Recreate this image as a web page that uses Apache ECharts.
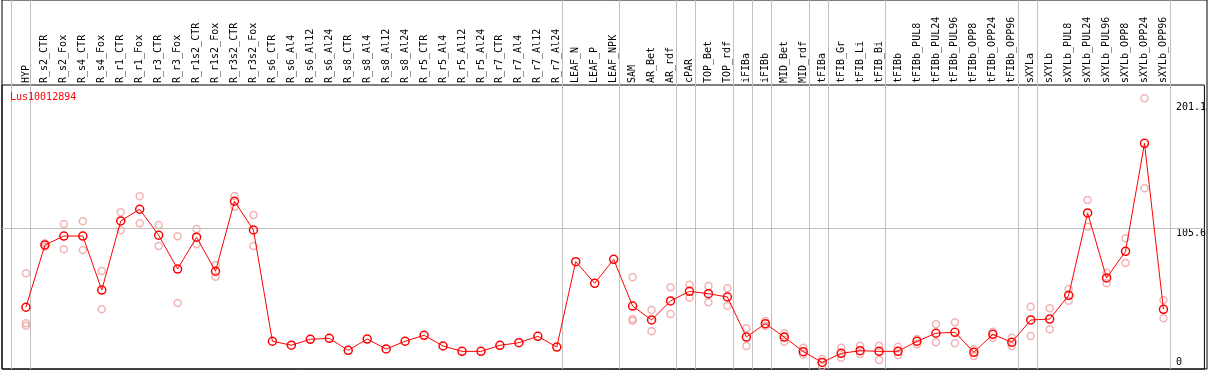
<!DOCTYPE html>
<html><head><meta charset="utf-8">
<script src="https://cdn.jsdelivr.net/npm/echarts@6/dist/echarts.min.js"></script>
<style>html,body{margin:0;padding:0;background:#fff}#c{width:1209px;height:370px}</style>
</head><body><div id="c"></div>
<script>
const categories = ['HYP','R_s2_CTR','R_s2_Fox','R_s4_CTR','R_s4_Fox','R_r1_CTR','R_r1_Fox','R_r3_CTR','R_r3_Fox','R_r1s2_CTR','R_r1s2_Fox','R_r3s2_CTR','R_r3s2_Fox','R_s6_CTR','R_s6_Al4','R_s6_Al12','R_s6_Al24','R_s8_CTR','R_s8_Al4','R_s8_Al12','R_s8_Al24','R_r5_CTR','R_r5_Al4','R_r5_Al12','R_r5_Al24','R_r7_CTR','R_r7_Al4','R_r7_Al12','R_r7_Al24','LEAF_N','LEAF_P','LEAF_NPK','SAM','AR_Bet','AR_rdf','cPAR','TOP_Bet','TOP_rdf','iFIBa','iFIBb','MID_Bet','MID_rdf','tFIBa','tFIB_Gr','tFIB_Li','tFIB_Bi','tFIBb','tFIBb_PUL8','tFIBb_PUL24','tFIBb_PUL96','tFIBb_OPP8','tFIBb_OPP24','tFIBb_OPP96','sXYLa','sXYLb','sXYLb_PUL8','sXYLb_PUL24','sXYLb_PUL96','sXYLb_OPP8','sXYLb_OPP24','sXYLb_OPP96'];
const meanValues = [45.5,92.9,99.7,99.7,58.6,111.2,120.1,100.3,74.6,98.8,72.9,126.2,104.3,19.6,16.6,21.1,21.8,12.7,21.3,13.7,19.6,24.1,16.0,11.9,11.9,16.5,18.5,23.4,15.2,80.2,63.7,82.0,46.4,35.8,50.3,57.6,55.8,53.3,22.8,33.0,22.8,11.7,3.5,10.4,12.4,11.9,11.9,19.6,25.7,26.4,11.2,24.9,18.8,35.8,36.5,54.6,117.3,67.8,88.1,170.3,43.9];
const rep1 = [71.3,94.2,108.9,110.9,73.1,117.8,130.0,108.1,99.5,105.1,77.7,130.2,115.7,null,null,null,null,null,null,null,null,null,null,null,null,null,null,null,null,null,null,null,68.3,43.4,60.7,62.7,61.7,59.9,29.5,35.0,25.7,14.7,6.1,14.7,16.2,16.2,15.5,21.3,32.5,34.0,13.5,26.9,22.3,45.9,44.7,59.4,127.2,71.8,98.0,204.6,51.0];
const rep2 = [33.3,91.6,89.6,89.1,43.9,104.1,109.4,92.1,48.7,93.4,68.8,122.1,92.1,null,null,null,null,null,null,null,null,null,null,null,null,null,null,null,null,null,null,null,36.5,27.2,40.4,52.8,49.3,46.4,16.0,31.5,19.3,9.6,0.3,7.1,9.9,5.3,9.1,17.3,18.8,18.0,8.4,22.3,16.0,23.6,28.7,50.5,106.8,63.7,79.2,136.1,37.1];
const rep3 = [31.5,null,null,null,null,null,null,null,null,null,null,null,null,null,null,null,null,null,null,null,null,null,null,null,null,null,null,null,null,null,null,null,35.3,null,null,null,null,null,null,null,null,null,null,null,null,null,null,null,null,null,null,null,null,null,null,null,null,null,null,null,null];
const groupBreaks = [-1,0,28,31,34,35,37,38,39,41,42,45,52,53,60];
const yTickLabels = [201.1, 105.6];
const yZeroLabel = [0];
const gridValue = 105.6;
const geneName = 'Lus10012894';

const FONT = 'DejaVu Sans Mono';
const xMin = -1.263, xMax = 62.16;
const yMin = -1.52, yMax = 214.7;
const meanData = meanValues.map((v, i) => [i, v]);
const repData = [];
[rep1, rep2, rep3].forEach(r => r.forEach((v, i) => { if (v != null) repData.push([i, v]); }));

const chart = echarts.init(document.getElementById('c'), null, {renderer: 'canvas'});
const hiddenAxis = {axisLine:{show:false},axisTick:{show:false},splitLine:{show:false}};
chart.setOption({
  animation: false,
  title: {text: geneName, left: 10, top: 92, padding: 0,
    textStyle: {fontFamily: FONT, fontSize: 10, fontWeight: 'normal', color: '#ff0000'}},
  grid: [
    {left: 2, right: 2, top: 0, bottom: 1, show: true, borderColor: '#000', borderWidth: 1, backgroundColor: 'transparent'},
    {left: 2, right: 2, top: 85, bottom: 1, show: true, borderColor: '#000', borderWidth: 1, backgroundColor: 'transparent'}
  ],
  xAxis: [
    {gridIndex: 0, type: 'value', min: xMin, max: xMax, show: false},
    Object.assign({gridIndex: 1, type: 'value', min: xMin, max: xMax, position: 'top',
      axisLabel: {customValues: categories.map((c, i) => i), formatter: v => categories[Math.round(v)],
        rotate: 90, margin: 2, fontFamily: FONT, fontSize: 10, color: '#000'}}, hiddenAxis)
  ],
  yAxis: [
    {gridIndex: 0, type: 'value', min: 0, max: 1, show: false},
    Object.assign({gridIndex: 1, type: 'value', min: yMin, max: yMax, position: 'right',
      axisLabel: {customValues: yTickLabels, inside: true, align: 'left', verticalAlign: 'top', margin: 28.5,
        fontFamily: FONT, fontSize: 10, color: '#000', formatter: v => String(v)}}, hiddenAxis),
    Object.assign({gridIndex: 1, type: 'value', min: yMin, max: yMax, position: 'right',
      axisLabel: {customValues: yZeroLabel, inside: true, align: 'left', verticalAlign: 'bottom', margin: 28.5,
        fontFamily: FONT, fontSize: 10, color: '#000', formatter: v => String(v)}}, hiddenAxis)
  ],
  series: [
    {type: 'line', xAxisIndex: 0, yAxisIndex: 0, data: [], silent: true,
      markLine: {silent: true, symbol: 'none', label: {show: false}, animation: false,
        lineStyle: {color: '#c0c0c0', width: 1, type: 'solid'},
        data: groupBreaks.map(b => ({xAxis: b + 0.23}))}},
    {type: 'scatter', xAxisIndex: 1, yAxisIndex: 1, data: repData, symbol: 'circle', symbolSize: 7, silent: true,
      itemStyle: {color: 'rgba(0,0,0,0)', borderColor: '#f0a0a0', borderWidth: 1.5},
      markLine: {silent: true, symbol: 'none', label: {show: false}, animation: false,
        lineStyle: {color: '#c0c0c0', width: 1, type: 'solid'}, data: [{yAxis: gridValue}]}},
    {type: 'line', xAxisIndex: 1, yAxisIndex: 1, data: meanData, symbol: 'circle', symbolSize: 8,
      showAllSymbol: true, silent: true, z: 5,
      lineStyle: {color: '#ff0000', width: 1},
      itemStyle: {color: 'rgba(0,0,0,0)', borderColor: '#ff0000', borderWidth: 1.5}}
  ]
});
</script></body></html>
